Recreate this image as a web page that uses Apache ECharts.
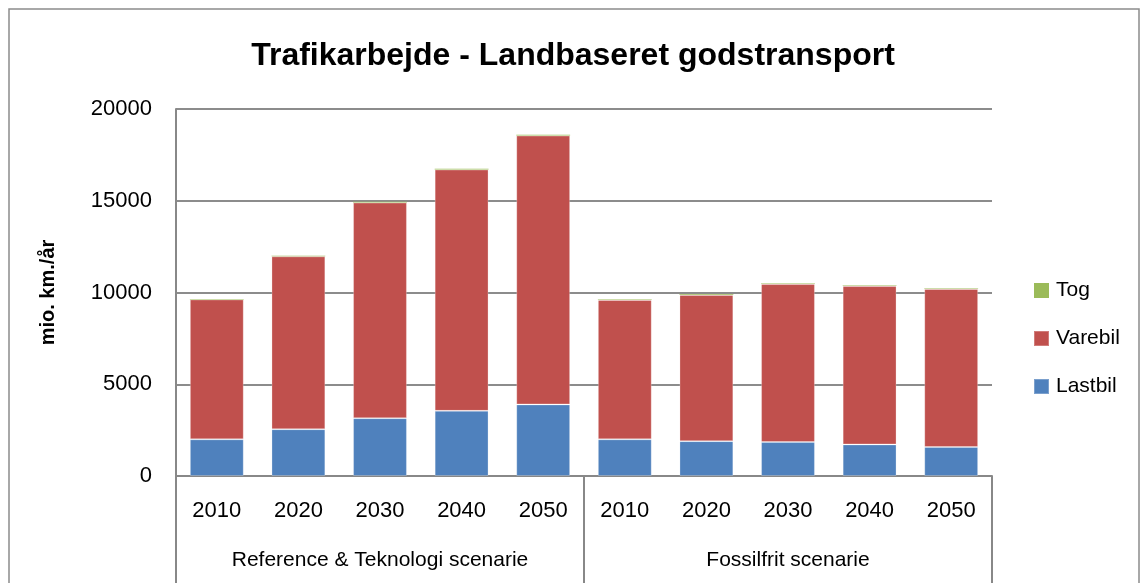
<!DOCTYPE html>
<html>
<head>
<meta charset="utf-8">
<script src="https://cdn.jsdelivr.net/npm/echarts@6/dist/echarts.min.js"></script>
<style>
  html, body { margin: 0; padding: 0; background: #fff; }
  #chart { width: 1146px; height: 583px; }
</style>
</head>
<body>
<div id="chart"></div>
<script>
// Data (mio. km./år)
var years = ['2010', '2020', '2030', '2040', '2050', '2010', '2020', '2030', '2040', '2050'];
var scenarios = ['Reference & Teknologi scenarie', 'Fossilfrit scenarie'];
var lastbil = [2000, 2550, 3150, 3550, 3900, 2000, 1900, 1850, 1720, 1580];
var varebil = [7620, 9420, 11750, 13150, 14650, 7590, 7970, 8610, 8630, 8610];
var tog = [30, 30, 50, 50, 50, 30, 40, 30, 30, 30];

var FONT = '"Liberation Sans", Arial, sans-serif';

var chart = echarts.init(document.getElementById('chart'));

var option = {
    animation: false,
    textStyle: { fontFamily: FONT },
    title: {
        text: 'Trafikarbejde - Landbaseret godstransport',
        left: 'center',
        top: 35,
        textStyle: { fontFamily: FONT, fontSize: 32, fontWeight: 'bold', color: '#000' }
    },
    legend: {
        orient: 'vertical',
        left: 1028,
        top: 275,
        itemWidth: 15,
        itemHeight: 15,
        itemGap: 27,
        icon: 'rect',
        data: ['Tog', 'Varebil', 'Lastbil'],
        textStyle: { fontFamily: FONT, fontSize: 21, color: '#000', padding: [0, 0, 0, 2] }
    },
    grid: { left: 176, right: 154, top: 109, bottom: 107 },
    xAxis: [{
        type: 'category',
        data: years,
        position: 'bottom',
        axisLine: { lineStyle: { color: '#888', width: 2 } },
        axisTick: { show: false },
        axisLabel: { fontFamily: FONT, fontSize: 22, color: '#000', margin: 24 }
    }, {
        type: 'category',
        data: scenarios,
        position: 'bottom',
        axisLine: { show: false },
        axisTick: { show: true, length: 110, alignWithLabel: false, lineStyle: { color: '#888', width: 2 } },
        axisLabel: { fontFamily: FONT, fontSize: 21, color: '#000', margin: 74 }
    }],
    yAxis: {
        type: 'value',
        min: 0,
        max: 20000,
        interval: 5000,
        name: 'mio. km./år',
        nameLocation: 'middle',
        nameGap: 118,
        nameRotate: 90,
        nameTextStyle: { fontFamily: FONT, fontSize: 20, fontWeight: 'bold', color: '#000' },
        axisLine: { show: true, lineStyle: { color: '#888', width: 2 } },
        axisTick: { show: false },
        splitLine: { lineStyle: { color: '#8c8c8c', width: 2 } },
        axisLabel: {
            fontFamily: FONT, fontSize: 22, color: '#000', margin: 24,
            formatter: function(v) { return String(v); }
        }
    },
    series: [{
        name: 'Lastbil',
        type: 'bar',
        stack: 'total',
        data: lastbil,
        barCategoryGap: '34%',
        itemStyle: { color: '#4F81BD', borderColor: 'rgba(255,255,255,0.25)', borderWidth: 1 }
    }, {
        name: 'Varebil',
        type: 'bar',
        stack: 'total',
        data: varebil,
        itemStyle: { color: '#C0504D', borderColor: 'rgba(255,255,255,0.25)', borderWidth: 1 }
    }, {
        name: 'Tog',
        type: 'bar',
        stack: 'total',
        data: tog,
        itemStyle: { color: '#9BBB59' }
    }],
    graphic: [{
        type: 'rect',
        shape: { x: 9, y: 9, width: 1130, height: 620 },
        style: { fill: 'none', stroke: '#8c8c8c', lineWidth: 1.5 },
        silent: true
    }]
};

chart.setOption(option);

window.addEventListener('resize', function() {
    chart.resize();
});
</script>
</body>
</html>
